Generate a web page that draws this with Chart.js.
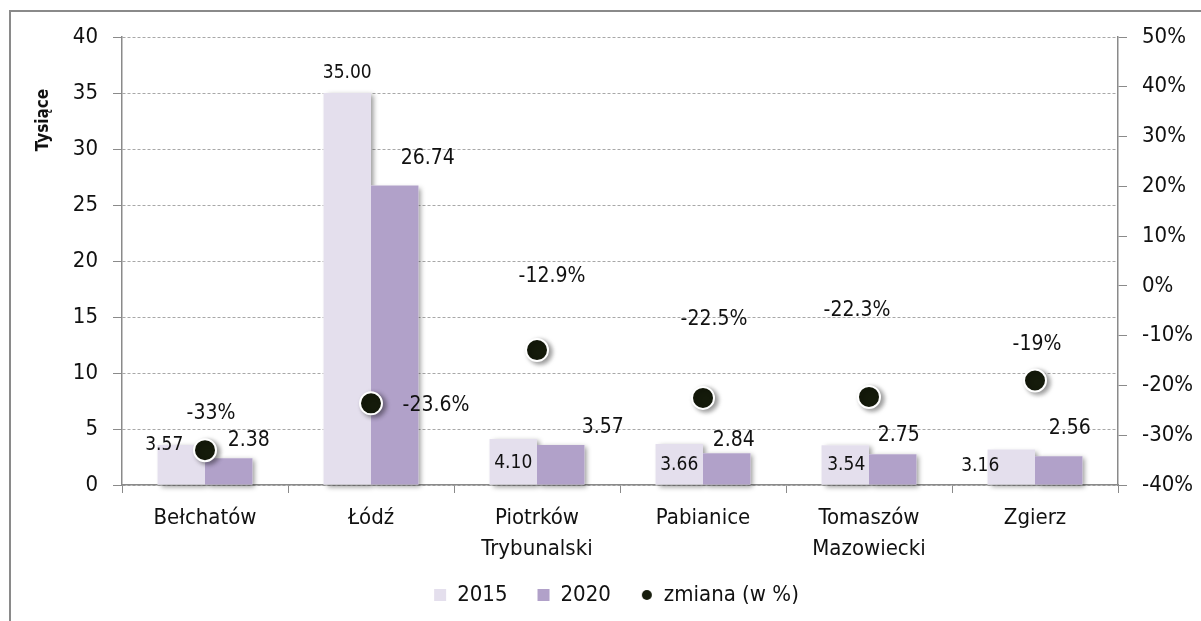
<!DOCTYPE html>
<html>
<head>
<meta charset="utf-8">
<script src="https://cdn.jsdelivr.net/npm/chart.js@4/dist/chart.umd.min.js"></script>
<style>
  body { margin: 0; background: #fff; }
  #wrap { position: relative; width: 1201px; height: 621px; overflow: hidden; }
  #frame { position: absolute; left: 9px; top: 10px; width: 1300px; height: 700px; border: 2px solid #8a8a8a; box-sizing: border-box; }
  canvas { position: absolute; left: 0; top: 0; }
</style>
</head>
<body>
<div id="wrap">
  <div id="frame"></div>
  <canvas id="chart" width="1201" height="621"></canvas>
</div>
<script>
// dane
const miasta = ['Bełchatów', 'Łódź', ['Piotrków', 'Trybunalski'], 'Pabianice', ['Tomaszów', 'Mazowiecki'], 'Zgierz'];
const lata2015 = [3.57, 35.00, 4.10, 3.66, 3.54, 3.16];
const lata2020 = [2.38, 26.74, 3.57, 2.84, 2.75, 2.56];
const zmiana = [-33, -23.6, -12.9, -22.5, -22.3, -19];

// przesunięcia etykiet (px) względem słupka / punktu
const off2015 = [[-17, 0], [0, -20], [0, 24], [0, 21], [1, 20], [-31, 16]];
const off2020 = [[20, -18], [33, -27], [42, -17], [7, -13], [6, -19], [11, -28]];
const offZm = [[6, -37], [65, 2], [15, -74], [11, -78], [-12, -86], [2, -36]];

const FONT = '"DejaVu Sans Condensed", "DejaVu Sans", sans-serif';
const TXT = '#111';

// mała kropka do legendy
const kropka = document.createElement('canvas');
kropka.width = 12; kropka.height = 12;
(function() {
    const c = kropka.getContext('2d');
    c.fillStyle = '#151b0b';
    c.beginPath(); c.arc(6, 6, 5, 0, Math.PI * 2); c.fill();
})();

function ustawCien(ctx) {
    ctx.shadowColor = 'rgba(0,0,0,0.4)';
    ctx.shadowBlur = 5;
    ctx.shadowOffsetX = 3;
    ctx.shadowOffsetY = 2;
}

const cienie = {
    id: 'cienie',
    // cienie słupków rysowane pod słupkami
    beforeDatasetsDraw(chart) {
        const ctx = chart.ctx;
        ctx.save();
        ustawCien(ctx);
        ctx.fillStyle = '#fff';
        [0, 1].forEach(i => {
            chart.getDatasetMeta(i).data.forEach(el => {
                const p = el.getProps(['x', 'y', 'base', 'width'], true);
                ctx.fillRect(p.x - p.width / 2, p.y, p.width, p.base - p.y);
            });
        });
        ctx.restore();
    },
    beforeDatasetDraw(chart, args) {
        if (args.index !== 2) return;
        chart.ctx.save();
        ustawCien(chart.ctx);
    },
    afterDatasetDraw(chart, args) {
        if (args.index !== 2) return;
        chart.ctx.restore();
    },
    // miejsce na dwuwierszowe podpisy osi X
    afterLayout(chart) {
        chart.scales.x.bottom = chart.height;
    }
};

const etykiety = {
    id: 'etykiety',
    afterDatasetsDraw(chart) {
        const ctx = chart.ctx;
        ctx.save();
        ctx.fillStyle = TXT;
        ctx.textAlign = 'center';
        ctx.textBaseline = 'middle';
        const sets = [
            { i: 0, off: off2015, size: 19, fmt: v => v.toFixed(2) },
            { i: 1, off: off2020, size: 21, fmt: v => v.toFixed(2) },
            { i: 2, off: offZm, size: 21, fmt: v => v + '%' }
        ];
        sets.forEach(s => {
            const meta = chart.getDatasetMeta(s.i);
            const data = chart.data.datasets[s.i].data;
            ctx.font = s.size + 'px ' + FONT;
            meta.data.forEach((el, j) => {
                ctx.fillText(s.fmt(data[j]), el.x + s.off[j][0], el.y + s.off[j][1]);
            });
        });
        // tytuł osi
        ctx.font = 'bold 17px ' + FONT;
        ctx.translate(44, 120);
        ctx.rotate(-Math.PI / 2);
        ctx.fillText('Tysiące', 0, 0);
        ctx.restore();
    }
};

const ctx = document.getElementById('chart').getContext('2d');
new Chart(ctx, {
    type: 'bar',
    data: {
        labels: miasta,
        datasets: [
            { label: '2015', data: lata2015, backgroundColor: '#e4dfed', order: 1, yAxisID: 'y',
              categoryPercentage: 0.572, barPercentage: 1 },
            { label: '2020', data: lata2020, backgroundColor: '#b1a1c9', order: 1, yAxisID: 'y',
              categoryPercentage: 0.572, barPercentage: 1 },
            { type: 'line', label: 'zmiana (w %)', data: zmiana, yAxisID: 'y1', order: 0,
              showLine: false, pointRadius: 11, pointHoverRadius: 11,
              pointBackgroundColor: '#151b0b', pointBorderColor: '#fff', pointBorderWidth: 2 }
        ]
    },
    options: {
        responsive: false,
        animation: false,
        events: [],
        layout: { padding: { left: 32, top: 37, right: 0, bottom: 5 } },
        plugins: {
            tooltip: { enabled: false },
            legend: {
                position: 'bottom',
                labels: {
                    usePointStyle: true,
                    boxWidth: 12,
                    boxHeight: 12,
                    padding: 30,
                    color: TXT,
                    font: { family: FONT, size: 22 },
                    generateLabels(chart) {
                        return chart.data.datasets.map((ds, i) => ({
                            text: ds.label,
                            fillStyle: ds.backgroundColor || ds.pointBackgroundColor,
                            strokeStyle: 'transparent',
                            lineWidth: 0,
                            pointStyle: i === 2 ? kropka : 'rect',
                            fontColor: TXT,
                            datasetIndex: i
                        }));
                    }
                }
            }
        },
        scales: {
            x: {
                grid: { drawOnChartArea: false, drawTicks: true, tickLength: 8, color: '#8a8a8a', offset: true },
                border: { color: '#8a8a8a', width: 1.5 },
                ticks: { color: TXT, padding: 10, font: { family: FONT, size: 22, lineHeight: 1.4 }, maxRotation: 0, autoSkip: false },
                afterFit(scale) { scale.height = 69; }
            },
            y: {
                position: 'left',
                min: 0, max: 40,
                ticks: { stepSize: 5, color: TXT, padding: 15, font: { family: FONT, size: 22 } },
                grid: { color: '#a8a8a8', tickColor: '#8a8a8a', tickLength: 9, lineWidth: 1 },
                border: { color: '#8a8a8a', width: 1.5, dash: [3, 2] },
                afterFit(scale) { scale.width = 90; }
            },
            y1: {
                position: 'right',
                min: -40, max: 50,
                ticks: { stepSize: 10, color: TXT, padding: 15, font: { family: FONT, size: 22 },
                         callback: v => v + '%' },
                grid: { drawOnChartArea: false, color: '#8a8a8a', tickLength: 9 },
                border: { color: '#8a8a8a', width: 1.5 },
                afterFit(scale) { scale.width = 83; }
            }
        }
    },
    plugins: [cienie, etykiety]
});
</script>
</body>
</html>
